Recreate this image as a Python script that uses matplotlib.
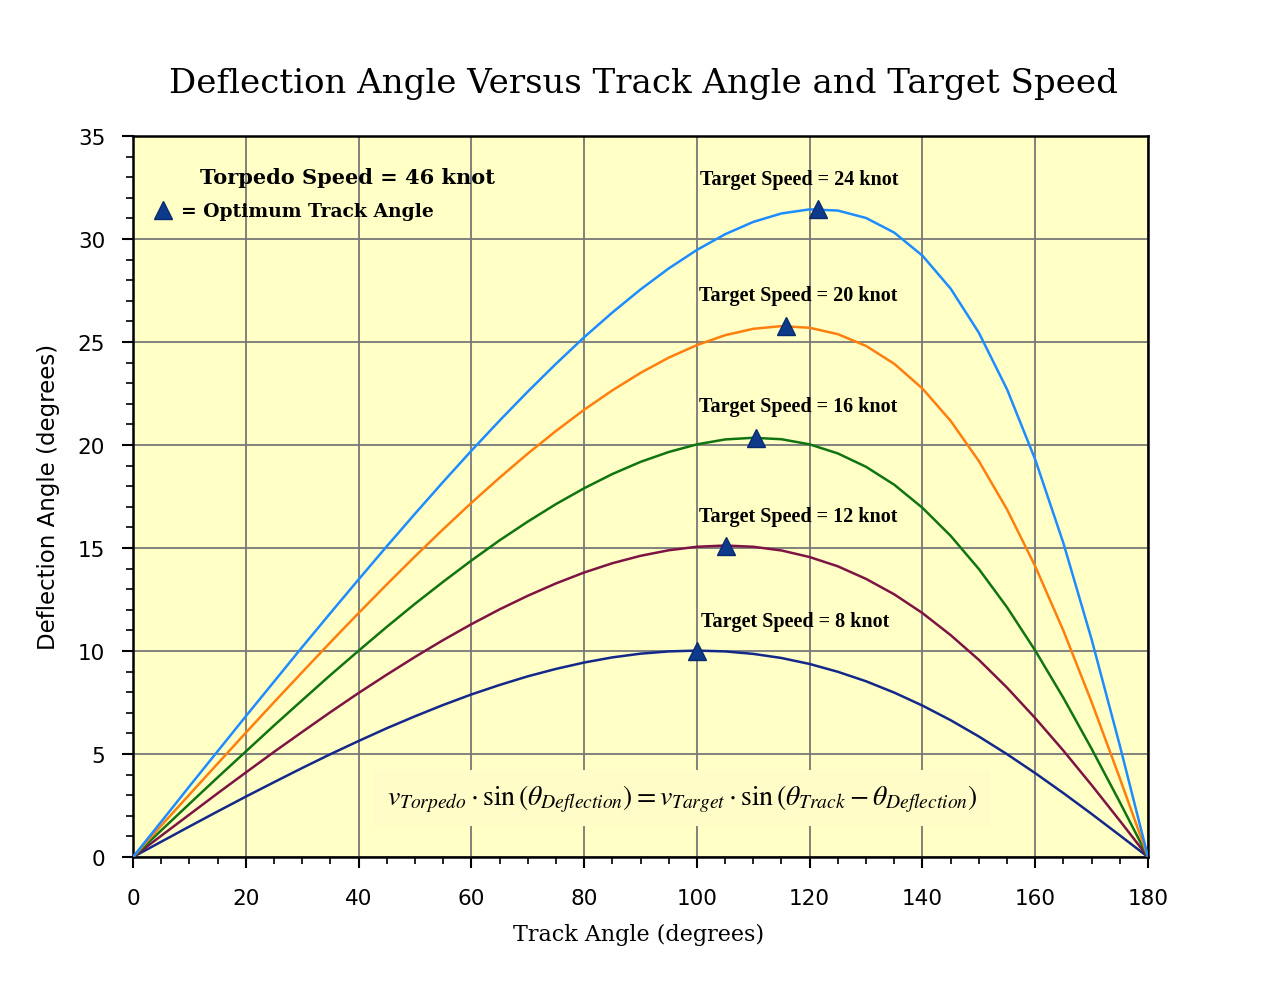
# deflection angle vs track angle for several target speeds
import numpy as np
import matplotlib.pyplot as plt
from matplotlib.ticker import MultipleLocator

plt.rcParams['mathtext.fontset'] = 'stix'

# track angle (degrees) sampled along the curves
track = [0, 5, 10, 15, 20, 25, 30, 35, 40, 45, 50, 55, 60, 65, 70, 75, 80, 85, 90,
         95, 100, 105, 110, 115, 120, 125, 130, 135, 140, 145, 150, 155, 160, 165, 170, 175, 180]

# deflection angle (degrees)
defl_8 = [0, 0.74, 1.48, 2.21, 2.93, 3.63, 4.32, 4.99, 5.63, 6.25, 6.83, 7.38, 7.89, 8.35, 8.77, 9.13, 9.44, 9.69, 9.87,
          9.98, 10.02, 9.98, 9.86, 9.66, 9.37, 8.99, 8.53, 7.98, 7.35, 6.64, 5.85, 4.99, 4.07, 3.10, 2.09, 1.05, 0]
defl_12 = [0, 1.03, 2.06, 3.09, 4.10, 5.10, 6.07, 7.03, 7.96, 8.85, 9.71, 10.53, 11.30, 12.02, 12.68, 13.28, 13.81, 14.26, 14.62,
           14.89, 15.06, 15.12, 15.06, 14.88, 14.56, 14.11, 13.50, 12.75, 11.84, 10.77, 9.57, 8.22, 6.74, 5.16, 3.49, 1.76, 0]
defl_16 = [0, 1.29, 2.58, 3.86, 5.12, 6.38, 7.61, 8.83, 10.01, 11.17, 12.29, 13.36, 14.39, 15.37, 16.28, 17.13, 17.90, 18.59, 19.18,
           19.66, 20.03, 20.27, 20.35, 20.28, 20.03, 19.59, 18.94, 18.07, 16.95, 15.59, 13.98, 12.12, 10.02, 7.72, 5.25, 2.66, 0]
defl_20 = [0, 1.52, 3.03, 4.53, 6.03, 7.51, 8.97, 10.42, 11.84, 13.23, 14.59, 15.91, 17.19, 18.41, 19.58, 20.68, 21.71, 22.65, 23.50,
           24.24, 24.85, 25.33, 25.64, 25.77, 25.69, 25.38, 24.81, 23.94, 22.74, 21.17, 19.22, 16.87, 14.11, 10.98, 7.52, 3.82, 0]
defl_24 = [0, 1.71, 3.43, 5.13, 6.83, 8.51, 10.19, 11.84, 13.47, 15.08, 16.66, 18.21, 19.72, 21.18, 22.59, 23.94, 25.23, 26.43, 27.55,
           28.57, 29.47, 30.23, 30.83, 31.24, 31.44, 31.38, 31.02, 30.31, 29.19, 27.59, 25.45, 22.70, 19.29, 15.23, 10.56, 5.41, 0]

speeds = [8, 12, 16, 20, 24]
colors = ['#14288a', '#7d1444', '#107510', '#ff7f0e', '#1e8cff']

# optimum track angle (triangles)
opt_track = [100.0, 105.1, 110.4, 115.8, 121.4]
opt_defl = [10.02, 15.12, 20.36, 25.77, 31.45]

# label positions (data coords)
label_x = [117.4, 118.0, 118.0, 118.0, 118.2]
label_y = [11.45, 16.55, 21.9, 27.3, 32.9]

fig = plt.figure(figsize=(12.8, 9.87), dpi=100)
ax = fig.add_axes([0.1039, 0.1307, 0.7930, 0.7305])
ax.set_facecolor('#ffffc6')

for d, c in zip([defl_8, defl_12, defl_16, defl_20, defl_24], colors):
    ax.plot(track, d, color=c, lw=1.8, zorder=3)

ax.plot(opt_track, opt_defl, ls='none', marker='^', ms=13, color='#0d3a8a',
        markeredgecolor='#0a2a70', zorder=4)

for x, y, s in zip(label_x, label_y, speeds):
    ax.text(x, y, f"Target Speed = {s} knot", ha='center', va='center',
            family='Liberation Serif', fontweight='bold', fontsize=14.5, zorder=5)

ax.text(11.9, 33.0, "Torpedo Speed = 46 knot", ha='left', va='center',
        family='DejaVu Serif', fontweight='bold', fontsize=15)
ax.plot([5.3], [31.4], ls='none', marker='^', ms=13, color='#0d3a8a',
        markeredgecolor='#0a2a70')
ax.text(8.5, 31.35, "= Optimum Track Angle", ha='left', va='center',
        family='DejaVu Serif', fontweight='bold', fontsize=13.5)

ax.text(97.4, 2.85,
        r'$v_{Torpedo}\cdot\sin\left(\theta_{Deflection}\right) = v_{Target}\cdot\sin\left(\theta_{Track}-\theta_{Deflection}\right)$',
        ha='center', va='center', fontsize=20, zorder=5,
        bbox=dict(facecolor='#fffcc8', edgecolor='none', pad=9))

ax.set_xlim(0, 180)
ax.set_ylim(0, 35)
ax.xaxis.set_major_locator(MultipleLocator(20))
ax.xaxis.set_minor_locator(MultipleLocator(5))
ax.yaxis.set_major_locator(MultipleLocator(5))
ax.yaxis.set_minor_locator(MultipleLocator(1))
ax.grid(True, which='major', color='#787878', lw=1.3, zorder=1)
ax.set_axisbelow(True)
ax.tick_params(which='major', direction='out', length=8, width=1.5, labelsize=15.5)
ax.tick_params(axis='x', which='major', pad=14)
ax.tick_params(axis='y', which='major', pad=12)
ax.tick_params(which='minor', direction='out', length=5, width=1.2)
for sp in ax.spines.values():
    sp.set_linewidth(1.8)

fig.text(0.503, 0.915, "Deflection Angle Versus Track Angle and Target Speed",
         ha='center', va='center', family='DejaVu Serif', fontsize=24.5)
fig.text(0.499, 0.053, "Track Angle (degrees)", ha='center', va='center',
         family='DejaVu Serif', fontsize=16)
fig.text(0.038, 0.497, "Deflection Angle (degrees)", ha='center', va='center',
         rotation=90, fontsize=16.5)

fig.savefig('out.png', dpi=100)
